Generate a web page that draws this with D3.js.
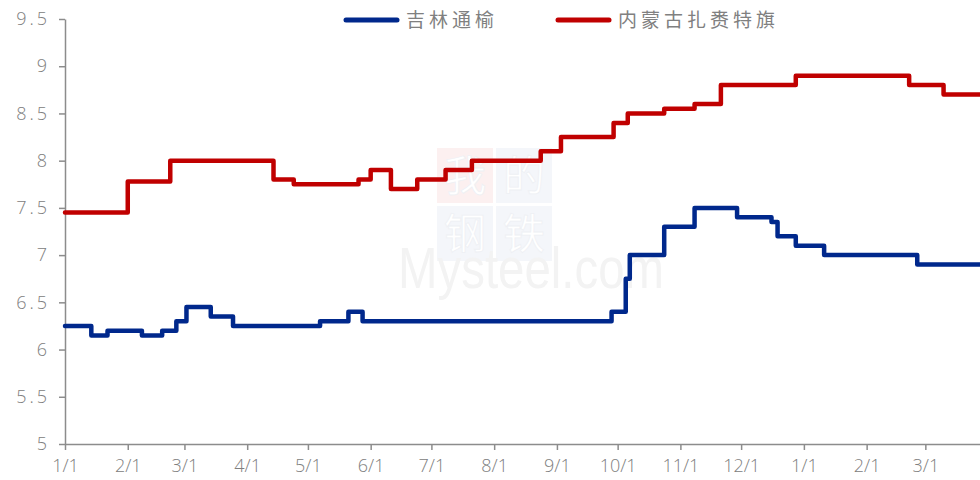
<!DOCTYPE html>
<html>
<head>
<meta charset="utf-8">
<script src="https://cdn.jsdelivr.net/npm/d3@7"></script>
<style>
    body { margin: 0; background: #fff; }
    .axis path, .axis line { stroke: #8c8c8c; stroke-width: 1.5; }
    .axis text { fill: #808080; font-family: "Open Sans", sans-serif; font-size: 18px; font-weight: 300; }
    .legend text { fill: #808080; font-family: "Noto Sans CJK SC", sans-serif; font-size: 19px; letter-spacing: 4px; }
    .series { fill: none; stroke-width: 4.5; stroke-linejoin: round; stroke-linecap: round; }
</style>
</head>
<body>
<svg id="chart"></svg>
<script>
    var W = 980, H = 480;
    var Margin = { left: 65, right: 0, top: 19, bottom: 36 };

    var seriesNames = ["吉林通榆", "内蒙古扎赉特旗"];
    var seriesColors = ["#00288c", "#c00000"];

    // change dates (step after) and values
    var jilinDates = ["2023-01-01","2023-01-14","2023-01-22","2023-02-08","2023-02-18","2023-02-25",
                      "2023-03-02","2023-03-14","2023-03-25","2023-05-07","2023-05-21","2023-05-28",
                      "2023-09-28","2023-10-05","2023-10-07","2023-10-24","2023-11-08","2023-11-29",
                      "2023-12-16","2023-12-19","2023-12-28","2024-01-11","2024-02-26","2024-03-28"];
    var jilinValues = [6.25,6.15,6.2,6.15,6.2,6.3,
                       6.45,6.35,6.25,6.3,6.4,6.3,
                       6.4,6.75,7.0,7.3,7.5,7.4,
                       7.35,7.2,7.1,7.0,6.9,6.9];

    var neimengDates = ["2023-01-01","2023-02-01","2023-02-22","2023-04-14","2023-04-24","2023-05-26",
                        "2023-06-01","2023-06-11","2023-06-24","2023-07-08","2023-07-21","2023-08-24",
                        "2023-09-03","2023-09-29","2023-10-06","2023-10-24","2023-11-08","2023-11-21",
                        "2023-12-28","2024-02-22","2024-03-10","2024-03-28"];
    var neimengValues = [7.45,7.78,8.0,7.8,7.75,7.8,
                         7.9,7.7,7.8,7.9,8.0,8.1,
                         8.25,8.4,8.5,8.55,8.6,8.8,
                         8.9,8.8,8.7,8.7];

    var xTickDates = ["2023-01-01","2023-02-01","2023-03-01","2023-04-01","2023-05-01","2023-06-01",
                      "2023-07-01","2023-08-01","2023-09-01","2023-10-01","2023-11-01","2023-12-01",
                      "2024-01-01","2024-02-01","2024-03-01"];
    var yTicks = [5, 5.5, 6, 6.5, 7, 7.5, 8, 8.5, 9, 9.5];
    var yTickLabels = ["5","5.5","6","6.5","7","7.5","8","8.5","9","9.5"];

    var parse = d3.timeParse("%Y-%m-%d");

    var svg = d3.select("#chart").attr("width", W).attr("height", H);

    var x = d3.scaleTime()
        .domain([parse("2023-01-01"), parse("2024-03-28")])
        .range([Margin.left, W - Margin.right]);
    var y = d3.scaleLinear()
        .domain([5, 9.5])
        .range([H - Margin.bottom, Margin.top]);

    // watermark
    var wm = svg.append("g").attr("class", "watermark");
    var boxes = [
        {c: "我", x: 437, y: 148, bg: "#fcf0f0"},
        {c: "的", x: 496, y: 148, bg: "#f4f6fa"},
        {c: "钢", x: 437, y: 206, bg: "#f4f6fa"},
        {c: "铁", x: 496, y: 206, bg: "#f4f6fa"}
    ];
    boxes.forEach(function(b) {
        wm.append("rect").attr("x", b.x).attr("y", b.y).attr("width", 56).attr("height", 55).attr("fill", b.bg);
        wm.append("text").attr("x", b.x + 28).attr("y", b.y + 43)
            .attr("text-anchor", "middle")
            .attr("font-family", "Noto Sans CJK SC").attr("font-size", 42)
            .attr("fill", "#ffffff").attr("stroke", "#eef0f4").attr("stroke-width", 0.8)
            .text(b.c);
    });
    wm.append("text").attr("x", 398).attr("y", 288)
        .attr("font-family", "Liberation Sans, Arial, sans-serif").attr("font-size", 58)
        .attr("fill", "#f3f3f3")
        .attr("textLength", 266).attr("lengthAdjust", "spacingAndGlyphs")
        .text("Mysteel.com");

    // axes
    var xAxis = d3.axisBottom(x)
        .tickValues(xTickDates.map(parse))
        .tickFormat(d3.timeFormat("%-m/%-d"))
        .tickSize(6).tickSizeOuter(0);
    var gx = svg.append("g").attr("class", "axis")
        .attr("transform", "translate(0," + (H - Margin.bottom) + ")")
        .call(xAxis);
    gx.selectAll("text").attr("dy", "1.05em");

    var yAxis = d3.axisLeft(y)
        .tickValues(yTicks)
        .tickFormat(function(d, i) { return yTickLabels[i]; })
        .tickSize(6).tickSizeOuter(0);
    var gy = svg.append("g").attr("class", "axis")
        .attr("transform", "translate(" + Margin.left + ",0)")
        .call(yAxis);
    gy.selectAll("text").attr("x", -15).attr("letter-spacing", "3px");

    // series
    var line = d3.line()
        .x(function(d) { return x(d.t); })
        .y(function(d) { return y(d.v); })
        .curve(d3.curveStepAfter);

    var series = [
        jilinDates.map(function(d, i) { return {t: parse(d), v: jilinValues[i]}; }),
        neimengDates.map(function(d, i) { return {t: parse(d), v: neimengValues[i]}; })
    ];
    series.forEach(function(s, i) {
        svg.append("path").attr("class", "series")
            .attr("stroke", seriesColors[i])
            .attr("d", line(s));
    });

    // legend
    var legend = svg.append("g").attr("class", "legend");
    var legendX = [346, 558];
    seriesNames.forEach(function(name, i) {
        legend.append("line")
            .attr("x1", legendX[i]).attr("x2", legendX[i] + 51)
            .attr("y1", 20).attr("y2", 20)
            .attr("stroke", seriesColors[i]).attr("stroke-width", 5)
            .attr("stroke-linecap", "round");
        legend.append("text")
            .attr("x", legendX[i] + 60).attr("y", 27)
            .text(name);
    });
</script>
</body>
</html>
